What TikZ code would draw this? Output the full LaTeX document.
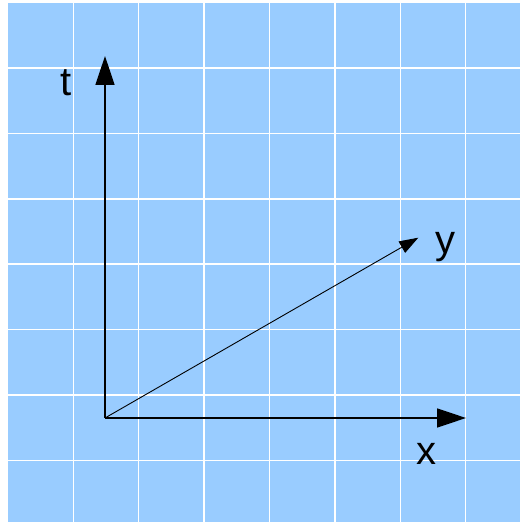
\documentclass[tikz,border=0pt]{standalone}
\usepackage{fontspec}
\setmainfont{Liberation Sans}
\usetikzlibrary{arrows.meta}
\definecolor{skyblue}{HTML}{99CCFF}

\begin{document}
\begin{tikzpicture}[
  x=1pt, y=1pt,
  every node/.style={font=\fontsize{40}{48}\selectfont, inner sep=0pt},
  gridline/.style={white, line width=1.5pt},
  axis/.style={-{Triangle[length=29pt, width=19pt]}, line width=1.5pt},
  thinaxis/.style={-{Triangle[length=19pt, width=13pt]}, line width=0.9pt},
]
\useasboundingbox (0,0) rectangle (520,522);
\fill[skyblue] (8,0) rectangle (520,519);
\foreach \i in {0,...,6} {
  \draw[gridline] (73.3+65.4*\i,0) -- (73.3+65.4*\i,519);
  \draw[gridline] (8,61.6+65.4*\i) -- (520,61.6+65.4*\i);
}

\coordinate (O) at (105,104);
\coordinate (tipT) at (105,466);
\coordinate (tipX) at (466,104);
\coordinate (tipY) at (418.3,284.3);

\node[anchor=base] (labT) at (66,426) {t};
\node[anchor=base] (labX) at (426.3,57.7) {x};
\node[anchor=base] (labY) at (445.5,268.7) {y};

\draw[axis] (O) -- (tipT);
\draw[axis] (O) -- (tipX);
\draw[thinaxis] (O) -- (tipY);
\end{tikzpicture}
\end{document}
